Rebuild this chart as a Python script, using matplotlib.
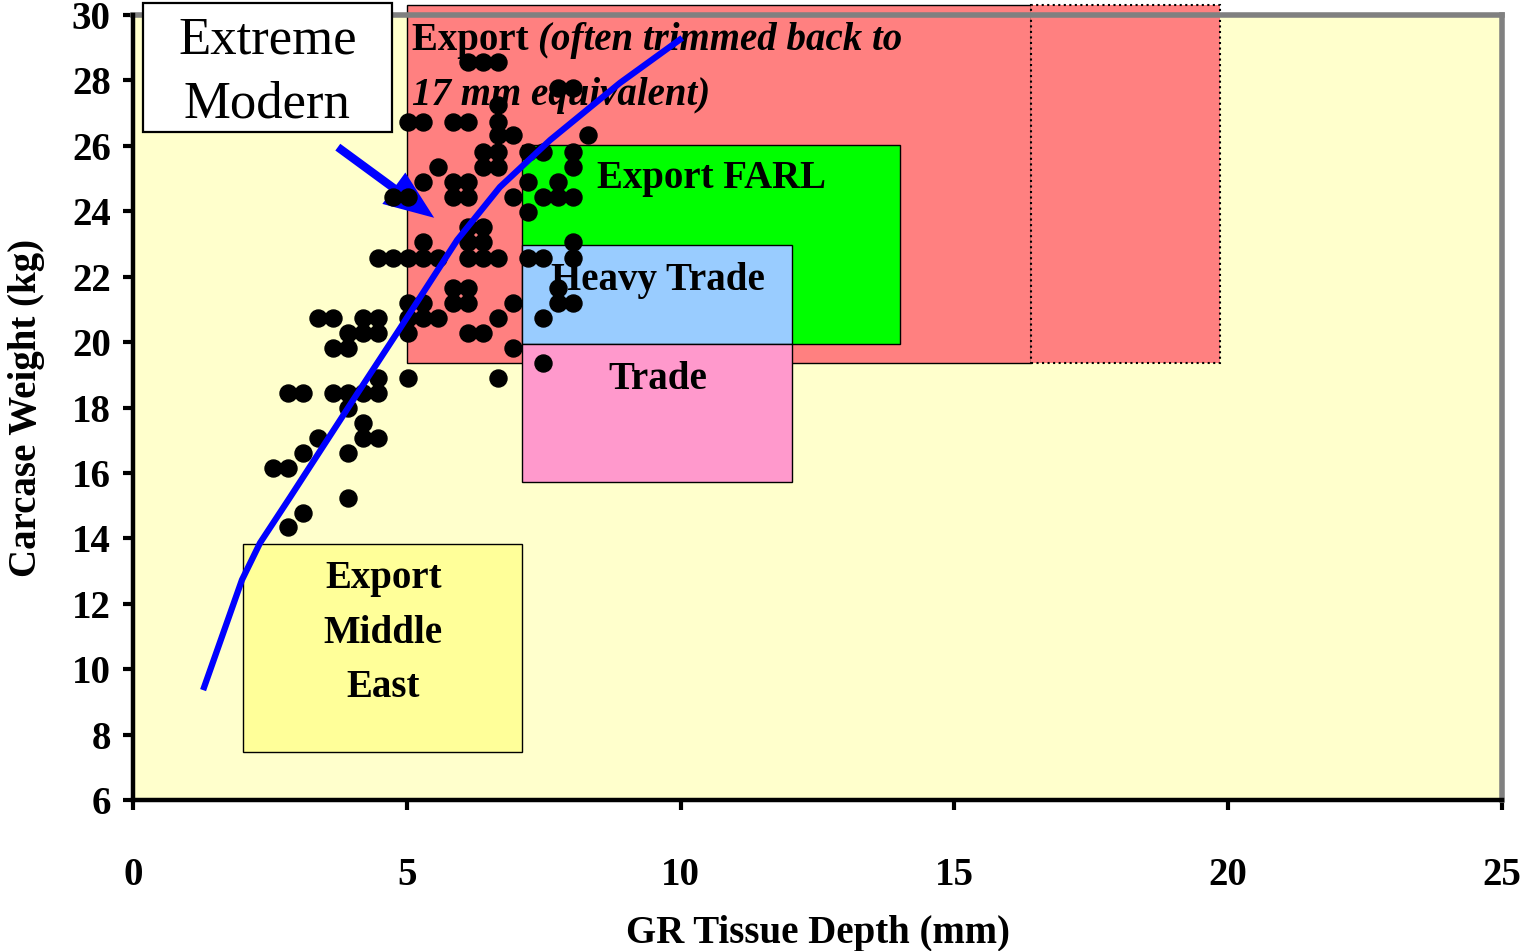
import matplotlib
matplotlib.use("Agg")
import matplotlib.pyplot as plt
from matplotlib.patches import Rectangle

plt.rcParams['font.family'] = ['Liberation Serif', 'DejaVu Serif']

# GR tissue depth (mm) / carcase weight (kg) of the sampled lambs
depth = [6.12, 6.39, 6.67,
         7.76, 8.04,
         6.67,
         5.02, 5.30, 5.84, 6.12, 6.67,
         6.67, 6.94, 8.31,
         6.39, 6.67, 7.21, 7.49, 8.04,
         5.57, 6.39, 6.67, 8.04,
         5.30, 5.84, 6.12, 7.21, 7.76,
         4.75, 5.02, 5.84, 6.12, 6.94, 7.49, 7.76, 8.04,
         7.21,
         6.12, 6.39,
         5.30, 6.12, 6.39, 8.04,
         4.47, 4.75, 5.02, 5.30, 5.57, 6.12, 6.39, 6.67, 7.21, 7.49, 8.04,
         5.84, 6.12, 7.76,
         5.02, 5.30, 5.84, 6.12, 6.94, 7.76, 8.04,
         3.38, 3.65, 4.20, 4.47, 5.02, 5.30, 5.57, 6.67, 7.49,
         3.93, 4.20, 4.47, 5.02, 6.12, 6.39,
         3.65, 3.93, 6.94,
         7.49,
         4.47, 5.02, 6.67,
         2.83, 3.10, 3.65, 3.93, 4.20, 4.47,
         3.93,
         4.20,
         3.38, 4.20, 4.47,
         3.10, 3.93,
         2.56, 2.83,
         3.93,
         3.10,
         2.83]
weight = [28.56] * 3 + [27.77] * 2 + [27.25] + [26.73] * 5 + [26.33] * 3 \
    + [25.81] * 5 + [25.35] * 4 + [24.89] * 5 + [24.43] * 8 + [23.98] \
    + [23.52] * 2 + [23.06] * 4 + [22.57] * 11 + [21.65] * 3 + [21.19] * 7 \
    + [20.74] * 9 + [20.28] * 6 + [19.82] * 3 + [19.36] + [18.90] * 3 \
    + [18.44] * 6 + [17.98] + [17.53] + [17.07] * 3 + [16.61] * 2 \
    + [16.15] * 2 + [15.23] + [14.77] + [14.35]

# trend line
trend_x = [1.28, 1.99, 2.32, 2.87, 4.09, 4.88, 5.92, 6.70, 7.62, 8.89, 10.03]
trend_y = [9.36, 12.73, 13.86, 15.26, 18.41, 20.43, 23.12, 24.74, 26.18, 27.92, 29.30]

# market boxes: (x0, x1, y0, y1, colour)
boxes = {
    'export': (5.0, 16.4, 19.36, 30.3, '#FF8080'),
    'farl': (7.1, 14.0, 19.94, 26.02, '#00FF00'),
    'heavy': (7.1, 12.03, 19.94, 22.97, '#99CCFF'),
    'trade': (7.1, 12.03, 15.72, 19.94, '#FF99CC'),
    'middle_east': (2.0, 7.1, 7.47, 13.83, '#FFFF99'),
}
export_dotted = (16.4, 19.85)
label_box = (0.18, 4.73, 26.42, 30.37)

fig = plt.figure(figsize=(15.23, 9.51), dpi=100)
ax = fig.add_axes([133 / 1523, 151 / 951, 1369 / 1523, 785 / 951])
ax.set_facecolor('#FFFFCC')
ax.set_xlim(0, 25)
ax.set_ylim(6, 30)

for key, (x0, x1, y0, y1, col) in boxes.items():
    ax.add_patch(Rectangle((x0, y0), x1 - x0, y1 - y0, facecolor=col,
                           edgecolor='black', lw=1.0, zorder=2, clip_on=False))
x0, x1, y0, y1, col = boxes['export']
ax.add_patch(Rectangle((export_dotted[0], y0), export_dotted[1] - export_dotted[0],
                       y1 - y0, facecolor=col, edgecolor='black', lw=1.5,
                       ls=':', zorder=2, clip_on=False))

bold = dict(fontweight='bold', fontsize=28, color='black', zorder=3)
t1 = ax.text(5.09, 29.22, 'Export ', ha='left', va='center', **bold)
ax.annotate('(often trimmed back to', xy=(1, 0), xycoords=t1, va='bottom',
            ha='left', style='italic', **bold)
ax.text(5.09, 27.55, '17 mm equivalent)', ha='left', va='center',
        style='italic', **bold)
ax.text(8.47, 25.0, 'Export FARL', ha='left', va='center', **bold)
ax.text(9.58, 21.88, 'Heavy Trade', ha='center', va='center', **bold)
ax.text(9.58, 18.85, 'Trade', ha='center', va='center', **bold)
ax.text(4.57, 11.1, 'Export\nMiddle\nEast', ha='center', va='center',
        linespacing=1.62, **bold)

bx0, bx1, by0, by1 = label_box
ax.add_patch(Rectangle((bx0, by0), bx1 - bx0, by1 - by0, facecolor='white',
                       edgecolor='black', lw=1.6, zorder=5, clip_on=False))
ax.text((bx0 + bx1) / 2, (by0 + by1) / 2 - 0.15, 'Extreme\nModern', ha='center',
        va='center', fontsize=38, linespacing=1.42, zorder=6, clip_on=False)

ax.annotate('', xy=(5.5, 23.8), xytext=(3.74, 25.96), zorder=4,
            arrowprops=dict(arrowstyle='simple,head_length=1.8,head_width=1.4,tail_width=0.3',
                            fc='#0000FF', ec='none', mutation_scale=20,
                            shrinkA=0, shrinkB=0))

ax.scatter(depth, weight, s=150, color='black', zorder=4, clip_on=False)
ax.plot(trend_x, trend_y, color='#0000FF', lw=4.5, zorder=5,
        solid_capstyle='butt', solid_joinstyle='round')

for side in ['left', 'bottom']:
    ax.spines[side].set_linewidth(3.2)
    ax.spines[side].set_color('black')
for side in ['top', 'right']:
    ax.spines[side].set_linewidth(4)
    ax.spines[side].set_color('#808080')
ax.spines['left'].set_zorder(6)
ax.spines['bottom'].set_zorder(6)

ax.set_xticks(range(0, 26, 5))
ax.set_yticks(range(6, 31, 2))
ax.tick_params(axis='both', direction='out', length=7, width=3, labelsize=28)
ax.tick_params(axis='x', pad=34)
ax.tick_params(axis='y', pad=9)
for lab in ax.get_xticklabels() + ax.get_yticklabels():
    lab.set_fontweight('bold')

ax.set_xlabel('GR Tissue Depth (mm)', fontsize=28, fontweight='bold', labelpad=15)
ax.set_ylabel('Carcase Weight (kg)', fontsize=28, fontweight='bold', labelpad=19)

fig.savefig('out.png', dpi=100)
